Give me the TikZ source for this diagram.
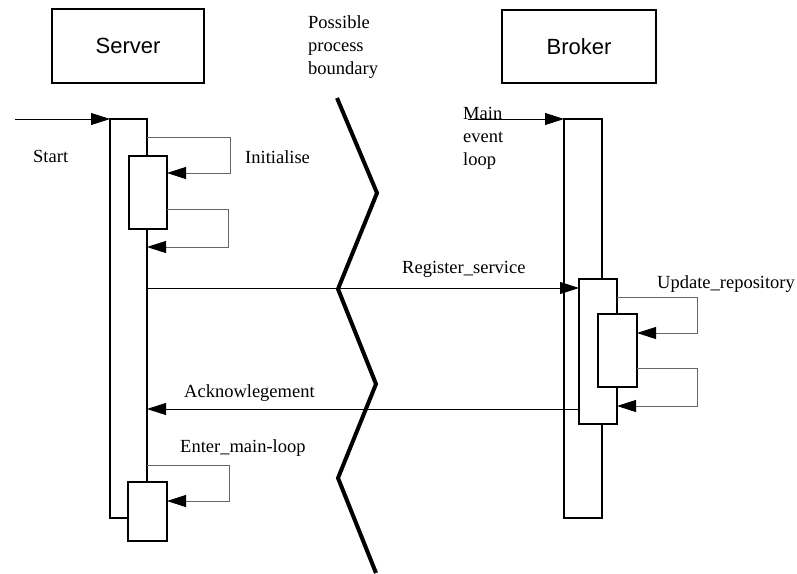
\documentclass[tikz,border=0pt]{standalone}
\usepackage{fontspec}
\setmainfont{Liberation Serif}
\setsansfont{Liberation Sans}
\usetikzlibrary{arrows.meta,calc}
\begin{document}
\begin{tikzpicture}[x=1pt,y=-1pt,
  obj/.style={draw, line width=1.5pt, inner sep=0pt, outer sep=0pt,
    minimum width=152pt, minimum height=74pt,
    font=\sffamily\fontsize{22}{26}\selectfont},
  lbar/.style={draw, line width=1.3pt, fill=white, inner sep=0pt, outer sep=0pt, anchor=north west},
  tip/.style={-{Triangle[length=19pt,width=12pt,color=black,fill=black]}},
  msg/.style={tip, line width=0.8pt, draw=black},
  selfloop/.style={tip, line width=0.9pt, draw=black!60},
  lbl/.style={inner sep=0pt, anchor=base west, font=\fontsize{18.5}{23}\selectfont},
  mlbl/.style={inner sep=0pt, anchor=north west, align=left, font=\fontsize{18.5}{23}\selectfont},
  boundary/.style={line width=4pt, line join=miter}
]
\useasboundingbox (0,0) rectangle (797,573);

% objects
\node[obj] (server) at (128,46) {Server};
\node[obj, minimum width=154pt, minimum height=73pt] (broker) at (579,46.5) {Broker};

% lifelines / activations
\node[lbar, minimum width=37pt, minimum height=399pt] (sbar) at (110,119) {};
\node[lbar, minimum width=38pt, minimum height=73pt] (sinit) at (129,156) {};
\node[lbar, minimum width=39pt, minimum height=59pt] (sml) at (128,482) {};
\node[lbar, minimum width=38pt, minimum height=399pt] (bbar) at (564,119) {};
\node[lbar, minimum width=38pt, minimum height=145pt] (bact) at (579,279) {};
\node[lbar, minimum width=39pt, minimum height=73pt] (binner) at (598,314) {};

% process boundary
\draw[boundary] (337,98) -- (377,193) -- (338,289) -- (376,384) -- (338,478) -- (376,573);

% free ends and levels
\coordinate (startpt) at (15,119);
\coordinate (mainpt) at (468,119);
\coordinate (yreg) at (0,288);
\coordinate (yack) at (0,409);

% messages
\draw[msg] (startpt) -- (sbar.north west);
\draw[msg] (mainpt) -- (bbar.north west);
\draw[msg] (sbar.east |- yreg) -- (bact.west |- yreg);
\draw[msg] (bact.west |- yack) -- (sbar.east |- yack);

% self calls
\draw[selfloop] (sbar.east |- 0,137) -| (230,173) -- (sinit.east |- 0,173);
\draw[selfloop] (sinit.east |- 0,209) -| (228,247) -- (sbar.east |- 0,247);
\draw[selfloop] (bact.east |- 0,297) -| (697,333) -- (binner.east |- 0,333);
\draw[selfloop] (binner.east |- 0,368) -| (697,406) -- (bact.east |- 0,406);
\draw[selfloop] (sbar.east |- 0,465) -| (229,501) -- (sml.east |- 0,501);

% labels
\node[lbl] (lstart) at (33,162) {Start};
\node[lbl] (linit) at (245,163) {Initialise};
\node[mlbl] (lbound) at (308,15) {Possible\\process\\boundary};
\node[mlbl] (lmain) at (463,107) {Main\\event\\loop};
\node[lbl] (lreg) at (402,273) {Register\_service};
\node[lbl] (lupd) at (657,288) {Update\_repository};
\node[lbl] (lack) at (184,397) {Acknowlegement};
\node[lbl] (lent) at (180,452) {Enter\_main-loop};
\end{tikzpicture}
\end{document}
